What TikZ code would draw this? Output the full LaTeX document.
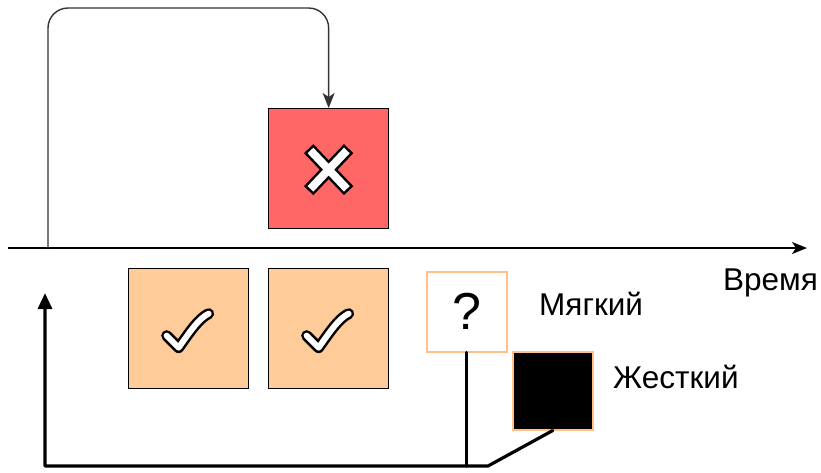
\documentclass[tikz,border=0pt]{standalone}
\usepackage{fontspec}
\setmainfont{Liberation Sans}
\usetikzlibrary{arrows.meta}
\definecolor{xred}{HTML}{FF6666}
\definecolor{okor}{HTML}{FFCC99}
\definecolor{okline}{HTML}{FFC08A}
\definecolor{loopgray}{HTML}{333333}
\begin{document}
\begin{tikzpicture}[x=1pt,y=-1pt,
  bigbox/.style={draw=black, line width=1.3pt, minimum width=120pt, minimum height=120pt, inner sep=0pt, anchor=north west},
  smallbox/.style={draw=okline, line width=1.5pt, minimum width=80pt, minimum height=80pt, inner sep=0pt, anchor=north west},
  lbl/.style={anchor=base west, inner sep=0pt, font=\fontsize{31.5}{33}\selectfont},
  axisline/.style={line width=1.5pt, -{Stealth[length=15pt,width=12pt,inset=4pt]}},
  loopline/.style={draw=loopgray, line width=1.4pt, rounded corners=20pt, -{Stealth[length=15pt,width=12pt,inset=4pt]}},
  thickline/.style={line width=3.2pt, line cap=round, line join=round},
  markout/.style={draw=black},
  markin/.style={draw=white}
]
\useasboundingbox (0,0) rectangle (821,472);

% boxes
\node[bigbox, fill=xred] (xb) at (268,108) {};
\node[bigbox, fill=okor] (c1) at (128,268) {};
\node[bigbox, fill=okor] (c2) at (268,268) {};
\node[smallbox, fill=white, font=\fontsize{52}{54}\selectfont] (q) at (426,271) {?};
\node[smallbox, fill=black, minimum height=78pt] (h) at (512,351) {};

% labels
\node[lbl] (tlabel) at (723,290) {Время};
\node[lbl] (soft) at (539,315) {Мягкий};
\node[lbl] (hard) at (613,388) {Жесткий};

% time axis
\coordinate (a0) at (8,248);
\coordinate (a1) at (807,248);
\draw[axisline] (a0) -- (a1);

% loop back connector on top
\coordinate (ls) at (48,248);
\coordinate (ltop) at (0,8);
\draw[loopline] (ls) -- (ls |- ltop) -- (xb.north |- ltop) -- (xb.north);

% bottom thick connectors
\coordinate (bj) at (488,466);
\coordinate (bl) at (45,466);
\coordinate (bu) at (45,293);
\draw[thickline, -{Triangle[length=16pt,width=14pt]}] (h.south) -- (bj) -- (bl) -- (bu);
\draw[thickline] (q.south) -- (q.south |- bj);

% X mark
\begin{scope}[shift={(xb.center)}]
  \draw[markout, line width=13pt, line cap=butt] (-20,-20) -- (20,22) (20,-20) -- (-20,22);
  \draw[markin, line width=8pt, line cap=butt] (-18.2,-18.2) -- (18.2,20.2) (18.2,-18.2) -- (-18.2,20.2);
\end{scope}

% check marks
\foreach \b in {c1,c2}{
  \begin{scope}[shift={(\b.center)}]
    \draw[markout, line width=11pt, line cap=round, line join=round] (-22,7) -- (-10,19) .. controls (2,2) and (10,-10) .. (20,-15);
    \draw[markin, line width=6pt, line cap=round, line join=round] (-22,7) -- (-10,19) .. controls (2,2) and (10,-10) .. (20,-15);
  \end{scope}
}
\end{tikzpicture}
\end{document}
